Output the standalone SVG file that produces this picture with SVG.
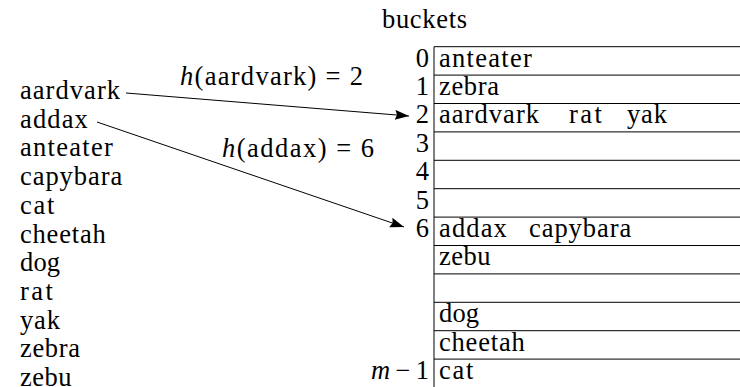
<svg xmlns="http://www.w3.org/2000/svg" width="740" height="387" viewBox="0 0 740 387">
<style>
text{font-family:"Liberation Serif","DejaVu Serif",serif;font-size:26.5px;fill:#000}
.num{text-anchor:end}
.it{font-style:italic}
.rule{stroke:#000;stroke-width:1;fill:none}
.conn{stroke:#000;stroke-width:1;fill:none}
</style>
<defs>
<marker id="arr" markerUnits="userSpaceOnUse" markerWidth="16" markerHeight="12" refX="14" refY="5" orient="auto">
<path d="M0,0 L14,5 L0,10 L2,5 z" fill="#000"/>
</marker>
</defs>
<rect width="740" height="387" fill="#fff"/>
<g id="keys">
<g id="key-aardvark"><text x="20" y="99" textLength="100">aardvark</text></g>
<g id="key-addax"><text x="20" y="127.7" textLength="67.8">addax</text></g>
<g id="key-anteater"><text x="20" y="156.4" textLength="92.9">anteater</text></g>
<g id="key-capybara"><text x="20" y="185.1" textLength="102.2">capybara</text></g>
<g id="key-cat"><text x="20" y="213.8" textLength="34.3">cat</text></g>
<g id="key-cheetah"><text x="20" y="242.5" textLength="85.7">cheetah</text></g>
<g id="key-dog"><text x="20" y="271.2" textLength="40">dog</text></g>
<g id="key-rat"><text x="20" y="299.9" textLength="32.9">rat</text></g>
<g id="key-yak"><text x="20" y="328.6" textLength="40">yak</text></g>
<g id="key-zebra"><text x="20" y="357.3" textLength="60">zebra</text></g>
<g id="key-zebu"><text x="20" y="386" textLength="51.4">zebu</text></g>
</g>
<g id="buckets">
<text x="382" y="28" textLength="85">buckets</text>
<g class="rule">
<line x1="434" y1="46.7" x2="434" y2="387"/>
<line x1="434" y1="46.7" x2="740" y2="46.7"/>
<line x1="434" y1="75.1" x2="740" y2="75.1"/>
<line x1="434" y1="103.5" x2="740" y2="103.5"/>
<line x1="434" y1="131.9" x2="740" y2="131.9"/>
<line x1="434" y1="160.3" x2="740" y2="160.3"/>
<line x1="434" y1="188.7" x2="740" y2="188.7"/>
<line x1="434" y1="217.1" x2="740" y2="217.1"/>
<line x1="434" y1="245.5" x2="740" y2="245.5"/>
<line x1="434" y1="273.9" x2="740" y2="273.9"/>
<line x1="434" y1="302.3" x2="740" y2="302.3"/>
<line x1="434" y1="330.7" x2="740" y2="330.7"/>
<line x1="434" y1="359.1" x2="740" y2="359.1"/>
</g>
<g id="bucket-0"><text class="num" x="429" y="66.5">0</text><text x="439" y="66.5" textLength="92.9">anteater</text></g>
<g id="bucket-1"><text class="num" x="429" y="94.9">1</text><text x="439" y="94.9" textLength="60">zebra</text></g>
<g id="bucket-2"><text class="num" x="429" y="123.3">2</text><text x="439" y="123.3" textLength="100">aardvark</text><text x="569" y="123.3" textLength="32.9">rat</text><text x="627" y="123.3" textLength="40">yak</text></g>
<g id="bucket-3"><text class="num" x="429" y="151.7">3</text></g>
<g id="bucket-4"><text class="num" x="429" y="180.1">4</text></g>
<g id="bucket-5"><text class="num" x="429" y="208.5">5</text></g>
<g id="bucket-6"><text class="num" x="429" y="236.9">6</text><text x="439" y="236.9" textLength="67.8">addax</text><text x="529" y="236.9" textLength="102.2">capybara</text></g>
<g id="bucket-7"><text x="439" y="265.3" textLength="51.4">zebu</text></g>
<g id="bucket-9"><text x="439" y="322.1" textLength="40">dog</text></g>
<g id="bucket-10"><text x="439" y="350.5" textLength="85.7">cheetah</text></g>
<g id="bucket-last"><text class="num" x="429" y="378.9" textLength="58"><tspan class="it">m</tspan>−1</text><text x="439" y="378.9" textLength="34.3">cat</text></g>
</g>
<g id="connectors">
<line class="conn" x1="126" y1="93" x2="409" y2="116" marker-end="url(#arr)"/>
<line class="conn" x1="97" y1="122" x2="404" y2="227" marker-end="url(#arr)"/>
<text x="180" y="85" textLength="183"><tspan class="it">h</tspan>(aardvark) = 2</text>
<text x="222" y="157" textLength="152"><tspan class="it">h</tspan>(addax) = 6</text>
</g>
</svg>
